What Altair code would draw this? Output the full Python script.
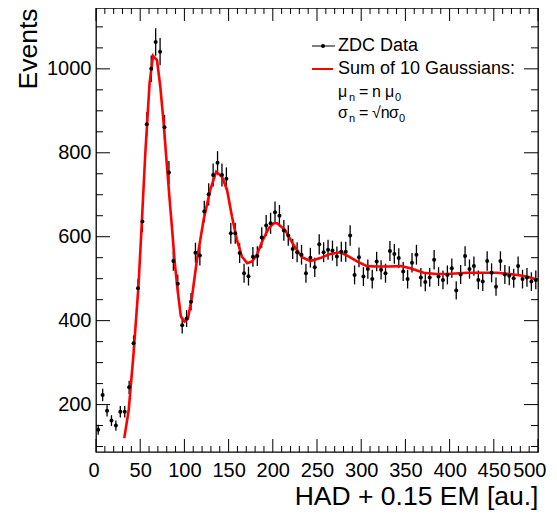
import altair as alt
import pandas as pd
import numpy as np

FONT = "Liberation Sans"
W, H = 442, 444

# ---- data ----
bin_centers = [2.5 + 5 * i for i in range(100)]
counts = [
    140, 223, 185, 162, 150, 183, 183, 241, 346, 477,
    636, 868, 1000, 1064, 1041, 861, 753, 542, 488, 389,
    405, 445, 562, 555, 660, 701, 747, 776, 747, 738,
    608, 608, 561, 513, 506, 552, 554, 598, 627, 632,
    658, 650, 615, 603, 571, 563, 557, 513, 550, 527,
    582, 563, 569, 567, 553, 564, 564, 603, 509, 551,
    505, 523, 499, 541, 521, 513, 566, 559, 549, 517,
    499, 538, 557, 503, 492, 503, 545, 505, 497, 509,
    525, 472, 510, 554, 523, 530, 497, 493, 542, 514,
    481, 542, 510, 507, 501, 530, 499, 503, 493, 497,
]

fit_x = [32, 37, 42.5, 48, 51, 55.8, 60.6, 64.5, 69, 72.7, 76.5, 80.3, 84, 86, 89,
         92.3, 96, 100, 104, 108.6, 114.2, 121.7, 129.3, 136, 142.5, 148.2, 153.8,
         159.5, 165, 171, 176.4, 182, 187.8, 195.3, 201, 205, 214, 223.5, 233,
         242.4, 253.7, 265, 276.3, 285.7, 295.2, 306.5, 318, 331, 345, 355.5,
         370.6, 385, 397, 420, 453.6, 472.4, 487.5, 500]
fit_y = [120, 187, 322, 481, 600, 800, 966, 1031, 1021, 958, 871, 767, 670, 620, 540,
         473, 410, 398, 405, 457, 545, 640, 712, 755, 743, 712, 648,
         592, 553, 537, 541, 557, 588, 620, 632, 632, 616, 580, 551,
         542, 549, 559, 563, 553, 541, 530, 529, 529, 530, 525,
         514, 511, 511, 514, 514, 510, 505, 497]

x_labels = list(range(0, 501, 50))
y_labels = [200, 400, 600, 800, 1000]
x_minor = [v for v in range(0, 501, 10) if v % 50 != 0]
y_minor = [v for v in range(100, 1101, 50) if v % 200 != 0]

err = np.sqrt(np.array(counts, dtype=float))
data = pd.DataFrame({"x": bin_centers, "y": counts,
                     "lo": np.array(counts) - err, "hi": np.array(counts) + err})
fit = pd.DataFrame({"x": fit_x, "y": fit_y})

xs = alt.Scale(domain=[0, 500], nice=False, zero=False)
ys = alt.Scale(domain=[87, 1145], nice=False, zero=False)

x_axis = alt.Axis(values=x_labels, format="d", grid=False, ticks=False, tickSize=0, domain=False,
                  labelFont=FONT, labelFontSize=20, labelColor="black", labelPadding=8,
                  labelFlush=True, labelFlushOffset=8,
                  title="HAD + 0.15 EM [au.]", titleFont=FONT,
                  titleFontSize=26.5, titleFontWeight="normal", titleColor="black",
                  titleAnchor="end", titlePadding=3)
y_axis = alt.Axis(values=y_labels, format="d", grid=False, ticks=False, tickSize=0, domain=False,
                  labelFont=FONT, labelFontSize=20, labelColor="black", labelPadding=5,
                  labelFlush=False, title="Events", titleFont=FONT, titleFontSize=26.5,
                  titleFontWeight="normal", titleColor="black", titleAnchor="end",
                  titlePadding=4)

X = lambda f: alt.X(f, type="quantitative", scale=xs, axis=x_axis)
Y = lambda f: alt.Y(f, type="quantitative", scale=ys, axis=y_axis)

errbars = alt.Chart(data).mark_rule(color="black", strokeWidth=1.3).encode(
    x=X("x"), y=Y("lo"), y2="hi")
points = alt.Chart(data).mark_circle(size=16, color="black", opacity=1).encode(
    x=X("x"), y=Y("y"))
fitline = alt.Chart(fit).mark_line(color="#ff0000", strokeWidth=2.6).encode(
    x=X("x"), y=Y("y"))

def xticks(vals, length):
    d = pd.DataFrame({"t": vals})
    b = alt.Chart(d).mark_rule(color="black", strokeWidth=1).encode(
        x=X("t"), y=alt.value(H), y2=alt.value(H - length))
    t = alt.Chart(d).mark_rule(color="black", strokeWidth=1).encode(
        x=X("t"), y=alt.value(0), y2=alt.value(length))
    return [b, t]

def yticks(vals, length):
    d = pd.DataFrame({"t": vals})
    l = alt.Chart(d).mark_rule(color="black", strokeWidth=1).encode(
        y=Y("t"), x=alt.value(0), x2=alt.value(length))
    r = alt.Chart(d).mark_rule(color="black", strokeWidth=1).encode(
        y=Y("t"), x=alt.value(W - length), x2=alt.value(W))
    return [l, r]

ticks = xticks(x_labels, 13) + xticks(x_minor, 6) + yticks(y_labels, 14) + yticks(y_minor, 7)

one = pd.DataFrame({"a": [0]})
def txt(s, x, y, size=18):
    return alt.Chart(one).mark_text(text=s, align="left", baseline="middle", font=FONT,
                                    fontSize=size, color="black").encode(
        x=alt.value(x), y=alt.value(y))

legend = [
    alt.Chart(one).mark_rule(color="black", strokeWidth=1).encode(
        x=alt.value(216), x2=alt.value(239), y=alt.value(38)),
    alt.Chart(one).mark_circle(size=16, color="black", opacity=1).encode(
        x=alt.value(227), y=alt.value(38)),
    alt.Chart(one).mark_rule(color="#ff0000", strokeWidth=2).encode(
        x=alt.value(216), x2=alt.value(237), y=alt.value(61)),
    txt("ZDC Data", 242, 38, 18),
    txt("Sum of 10 Gaussians:", 242, 61, 18),
    # mu row
    txt("μ", 242, 84, 16),
    txt("n", 253, 90, 11),
    txt("=", 263, 84, 16),
    txt("n", 276, 84, 16),
    txt("μ", 289, 84, 16),
    txt("0", 299, 90, 11),
    # sigma row
    txt("σ", 242, 105, 16),
    txt("n", 253, 111, 11),
    txt("=", 263, 105, 16),
    txt("√n", 276, 105, 16),
    txt("σ", 293, 105, 16),
    txt("0", 303, 111, 11),
]

chart = alt.layer(*ticks, errbars, fitline, points, *legend).properties(
    width=W, height=H,
    padding={"left": 88, "top": 0, "right": 11, "bottom": 63},
    autosize="none",
).configure_view(stroke="black", strokeWidth=1.3)

chart.save("out.html", embed_options={"renderer": "svg", "actions": False})
